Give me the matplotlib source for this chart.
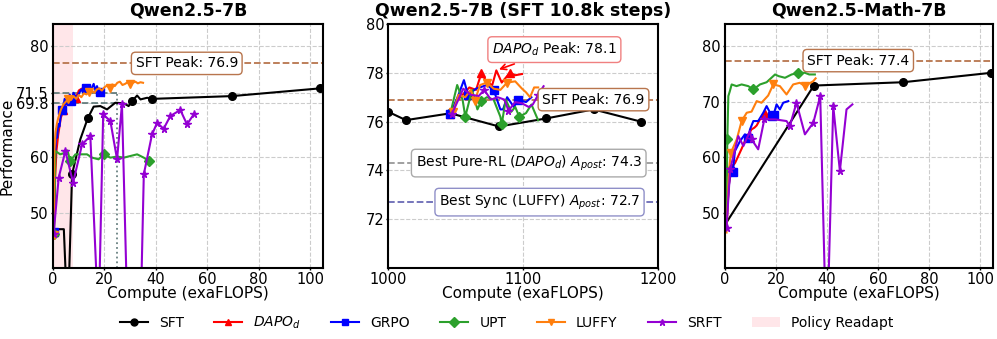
import matplotlib
matplotlib.use("Agg")
import matplotlib.pyplot as plt
from matplotlib.patches import Patch
from matplotlib.lines import Line2D

# ---------------- Panel 1: Qwen2.5-7B ----------------
p1_sft_x = [0.2, 0.9, 4.2, 5.7, 7.4, 10.6, 13.5, 15.8, 18.4, 21.0, 24.2, 27.5, 29.4, 30.7, 32.7, 34.0, 36.6, 38.5, 69.6, 104]
p1_sft_y = [46.0, 47.0, 47.0, 30.0, 56.9, 63.2, 67.0, 69.1, 69.2, 68.6, 69.8, 69.7, 69.2, 70.1, 71.1, 70.4, 70.7, 70.5, 71.0, 72.4]

p1_dapo_x = [0.3, 0.8, 1.3, 2, 3, 4, 5, 6, 7, 8, 9, 10, 11]
p1_dapo_y = [46.5, 56, 61, 64, 67, 68.5, 69.5, 70.2, 69.8, 71.0, 70.6, 72.0, 72.3]

p1_grpo_x = [0.3, 0.8, 1.2, 1.6, 2.0, 2.5, 3.0, 3.5, 4.0, 4.5, 5.0, 5.5, 6.0, 6.5, 7.0, 7.5, 8.0, 9, 10, 11, 12, 13, 14, 15, 15.8, 16.5, 17.1, 17.8, 18.4]
p1_grpo_y = [46.5, 59.5, 65, 63.5, 66, 65.5, 67.5, 68.5, 69.0, 70.5, 69.5, 71.0, 70.2, 71.3, 70.1, 70.8, 71.6, 70.6, 71.4, 72.2, 71.5, 72.5, 71.6, 72.4, 73.2, 72.0, 72.8, 71.7, 71.8]

p1_upt_x = [0.4, 0.9, 2.8, 4.8, 5.6, 6.7, 8.7, 10.6, 13.2, 15.2, 17.7, 19.7, 22.3, 24.9, 27.5, 30.1, 32.7, 35.3, 37.2]
p1_upt_y = [46.1, 61.1, 60.5, 60.8, 61.2, 59.3, 60.5, 60.5, 60.5, 59.9, 59.6, 60.5, 59.9, 60.1, 59.9, 60.2, 60.5, 59.9, 59.3]

p1_luffy_x = [0.3, 0.5, 1, 1.5, 2, 3, 4, 5, 6, 7, 8, 9, 10, 11, 12, 13, 14, 15, 16, 17, 18, 19, 20, 21, 22, 23, 24, 25, 26, 27, 28, 29, 30, 31, 32, 33, 34, 35]
p1_luffy_y = [46.0, 61, 64.5, 66, 67, 68.5, 69.5, 70, 70.5, 70.3, 71, 70.5, 71.2, 70.8, 71.5, 71.3, 71.8, 72, 71.6, 72.2, 72.4, 72, 72.6, 72.9, 72.5, 73.1, 72.8, 73.4, 73.6, 73.0, 73.2, 73.5, 73.1, 73.4, 73.6, 73.3, 73.5, 73.4]

p1_srft_x = [0.2, 2.2, 4.8, 7.8, 11.3, 14.5, 17.7, 19.5, 22.3, 24.9, 26.8, 29.0, 34.0, 35.3, 38.5, 40.5, 43.0, 45.6, 49.5, 52.1, 54.7]
p1_srft_y = [46.1, 56.3, 61.1, 55.4, 62.3, 63.8, 30, 67.7, 66.5, 59.6, 69.5, 30, 30, 56.9, 64.1, 66.2, 65.1, 67.4, 68.5, 65.9, 67.7]

# ---------------- Panel 2: Qwen2.5-7B (SFT 10.8k steps) ----------------
p2_sft_x = [1000, 1013, 1046, 1082, 1117, 1152, 1187]
p2_sft_y = [76.4, 76.06, 76.34, 75.8, 76.13, 76.5, 76.0]

p2_dapo_x = [1046, 1050, 1055, 1060, 1065, 1069, 1073, 1077, 1080, 1084, 1087, 1090, 1094, 1099]
p2_dapo_y = [76.3, 76.8, 77.1, 77.4, 77.3, 78.0, 77.6, 77.5, 78.1, 77.6, 77.8, 78.0, 77.9, 77.95]

p2_grpo_x = [1046, 1052, 1056, 1059, 1065, 1073, 1078, 1083, 1085, 1088, 1093, 1096, 1102, 1106]
p2_grpo_y = [76.3, 77.1, 77.7, 77.1, 77.35, 77.5, 77.3, 76.5, 76.5, 77.0, 76.6, 76.9, 76.8, 77.0]

p2_upt_x = [1046, 1051, 1055, 1057, 1062, 1066, 1069, 1073, 1078, 1083, 1084, 1087, 1091, 1094, 1097, 1102, 1106, 1111]
p2_upt_y = [76.35, 77.5, 76.9, 76.2, 77.3, 76.5, 76.85, 77.0, 76.9, 76.2, 75.9, 76.9, 76.4, 76.6, 76.2, 76.35, 76.7, 76.05]

p2_luffy_x = [1048, 1052, 1057, 1061, 1064, 1068, 1073, 1078, 1083, 1088, 1094, 1099, 1102, 1105, 1108, 1111]
p2_luffy_y = [76.4, 77.1, 77.0, 77.3, 76.85, 77.5, 77.6, 77.35, 77.3, 77.6, 77.65, 77.35, 77.2, 77.0, 77.4, 77.4]

p2_srft_x = [1047, 1055.5, 1061, 1067, 1071, 1076, 1081, 1086, 1089, 1094, 1099, 1104, 1107, 1111, 1115]
p2_srft_y = [76.3, 77.35, 77.1, 77.05, 77.3, 76.9, 77.0, 76.9, 76.45, 76.8, 76.75, 76.6, 76.7, 77.1, 77.45]

# ---------------- Panel 3: Qwen2.5-Math-7B ----------------
p3_sft_x = [0.0, 34.8, 69.8, 104.3]
p3_sft_y = [47.8, 72.9, 73.5, 75.2]

p3_dapo_x = [0.5, 1.5, 2.6, 4.0, 5.2, 6.5, 7.8, 9.0, 10.4, 11.5, 12.4, 13.7, 15.0, 15.6]
p3_dapo_y = [47.0, 55.0, 58.1, 59.0, 60.2, 61.5, 62.9, 64.0, 65.0, 65.3, 65.7, 66.8, 67.0, 67.7]

p3_grpo_x = [0.5, 1.2, 2.0, 3.0, 3.9, 5.9, 7.8, 9.1, 9.8, 11.1, 13.0, 15.0, 16.3, 18.3, 19.0, 20.2, 21.5, 22.8, 24.8]
p3_grpo_y = [47.0, 53.0, 57.5, 57.3, 61.1, 62.9, 64.1, 63.5, 65.0, 66.5, 66.5, 68.0, 69.2, 67.4, 67.6, 69.5, 68.6, 69.8, 70.1]

p3_upt_x = [0.5, 0.9, 1.3, 1.9, 2.6, 4.5, 6.5, 9.1, 11.1, 13.7, 16.3, 19.6, 21.0, 23.5, 26.1, 28.7, 31.3, 33.0, 35.2]
p3_upt_y = [47.0, 63.2, 71.0, 71.9, 73.1, 72.8, 73.1, 72.8, 72.2, 73.1, 73.5, 74.9, 74.6, 74.3, 74.9, 75.2, 75.2, 74.9, 74.9]

p3_luffy_x = [0.6, 1.6, 2.3, 4.6, 6.5, 8.5, 10.4, 12.4, 14.3, 16.9, 18.9, 21.5, 24.1, 26.7, 29.3, 31.3, 34.6, 35.5]
p3_luffy_y = [46.4, 57.8, 60.8, 63.2, 66.5, 68.0, 68.2, 70.1, 69.8, 71.1, 73.1, 72.8, 71.3, 73.1, 73.4, 72.8, 73.7, 74.2]

p3_srft_x = [0.6, 2.0, 3.3, 5.2, 7.2, 9.8, 10.4, 13.0, 15.4, 19.6, 24.1, 25.4, 28.0, 31.3, 34.6, 37.3, 39.8, 42.4, 45.0, 47.6, 49.9]
p3_srft_y = [47.3, 57.8, 60.2, 63.8, 62.0, 64.7, 63.2, 61.4, 66.8, 66.8, 66.5, 65.6, 69.8, 64.1, 66.2, 71.0, 25, 69.2, 57.5, 68.6, 69.5]

C_SFT, C_DAPO, C_GRPO, C_UPT, C_LUFFY, C_SRFT = "black", "red", "blue", "#2ca02c", "#ff7f0e", "darkviolet"
PEAK_C = "#b8754d"
REF_C = "#4f6b6b"

plt.rcParams["font.family"] = "DejaVu Sans"

fig = plt.figure(figsize=(9.97, 3.39), dpi=100)
ax1 = fig.add_axes([0.0532, 0.2094, 0.2708, 0.7198])
ax2 = fig.add_axes([0.3895, 0.2094, 0.2708, 0.7198])
ax3 = fig.add_axes([0.7272, 0.2094, 0.2688, 0.7198])


def style(ax):
    ax.grid(True, ls="--", color="#cccccc", lw=0.8)
    ax.set_axisbelow(True)
    for s in ax.spines.values():
        s.set_linewidth(1.5)
    ax.tick_params(labelsize=10.5, width=1.0, length=1.5, pad=1.5)
    ax.set_xlabel("Compute (exaFLOPS)", fontsize=11, labelpad=-1.2)


def runs(ax, d, lw=1.5, ms=5.5):
    for x, y, c, m, me in d:
        ax.plot(x, y, color=c, marker=m, markevery=me, lw=lw, ms=ms, clip_on=True)


peak_box = dict(boxstyle="round,pad=0.3", fc="white", ec=PEAK_C, lw=1.0)

# panel 1
style(ax1)
ax1.axvspan(0, 7.6, color="#ffc8d0", alpha=0.45, lw=0, zorder=0)
ax1.axhline(76.9, color=PEAK_C, ls="--", lw=1.3)
ax1.text(52, 76.9, "SFT Peak: 76.9", ha="center", va="center", fontsize=10, bbox=peak_box)
ax1.plot([0, 25], [71.5, 71.5], color=REF_C, ls="--", lw=1.3, alpha=0.85)
ax1.plot([0, 25], [69.8, 69.8], color=REF_C, ls="--", lw=1.3, alpha=0.85)
ax1.plot([24.9, 24.9], [40, 71.5], color=REF_C, ls=":", lw=1.3, alpha=0.85)
runs(ax1, [
    (p1_sft_x, p1_sft_y, C_SFT, "o", [4, 6, 13, 17, 18, 19]),
    (p1_dapo_x, p1_dapo_y, C_DAPO, "^", 5),
    (p1_grpo_x, p1_grpo_y, C_GRPO, "s", 7),
    (p1_upt_x, p1_upt_y, C_UPT, "D", [0, 5, 11, 18]),
    (p1_luffy_x, p1_luffy_y, C_LUFFY, "v", 8),
    (p1_srft_x, p1_srft_y, C_SRFT, "*", 1),
])
ax1.set_xlim(0, 105)
ax1.set_ylim(40, 84)
ax1.set_yticks([50, 60, 69.8, 71.5, 80])
ax1.set_yticklabels(["50", "60", "69.8", "71.5", "80"])
ax1.set_xticks([0, 20, 40, 60, 80, 100])
ax1.set_ylabel("Performance", fontsize=11, labelpad=1)
ax1.set_title("Qwen2.5-7B", fontsize=12.5, fontweight="bold")

# panel 2
style(ax2)
ax2.axhline(76.9, color=PEAK_C, ls="--", lw=1.3)
ax2.axhline(74.3, color="#999999", ls="--", lw=1.3)
ax2.axhline(72.7, color="#6a6ab5", ls="--", lw=1.3)
runs(ax2, [
    (p2_sft_x, p2_sft_y, C_SFT, "o", 1),
    (p2_dapo_x, p2_dapo_y, C_DAPO, "^", [0, 5, 11]),
    (p2_grpo_x, p2_grpo_y, C_GRPO, "s", [0, 3, 6, 11]),
    (p2_upt_x, p2_upt_y, C_UPT, "D", [3, 6, 10, 14]),
    (p2_luffy_x, p2_luffy_y, C_LUFFY, "v", [0, 4, 6, 9]),
    (p2_srft_x, p2_srft_y, C_SRFT, "*", [0, 4, 8, 13]),
])
ax2.text(1152, 76.9, "SFT Peak: 76.9", ha="center", va="center", fontsize=10, bbox=peak_box, zorder=5)
ax2.text(1104, 74.3, r"Best Pure-RL ($DAPO_d$) $A_{post}$: 74.3", ha="center", va="center", fontsize=10,
         bbox=dict(boxstyle="round,pad=0.3", fc="white", ec="#aaaaaa", lw=1.0), zorder=5)
ax2.text(1112, 72.7, r"Best Sync (LUFFY) $A_{post}$: 72.7", ha="center", va="center", fontsize=10,
         bbox=dict(boxstyle="round,pad=0.3", fc="white", ec="#8f8fc8", lw=1.0), zorder=5)
ax2.annotate(r"$DAPO_d$ Peak: 78.1", xy=(1080, 78.1), xytext=(1123, 78.95), ha="center", va="center",
             fontsize=10, bbox=dict(boxstyle="round,pad=0.3", fc="white", ec="#f08080", lw=1.0),
             arrowprops=dict(arrowstyle="->", color="red", lw=1.2), zorder=5)
ax2.set_xlim(1000, 1200)
ax2.set_ylim(70, 80)
ax2.set_xticks([1000, 1100, 1200])
ax2.set_yticks([72, 74, 76, 78, 80])
ax2.set_title("Qwen2.5-7B (SFT 10.8k steps)", fontsize=12.5, fontweight="bold")

# panel 3
style(ax3)
ax3.axhline(77.4, color=PEAK_C, ls="--", lw=1.3)
ax3.text(52.2, 77.4, "SFT Peak: 77.4", ha="center", va="center", fontsize=10, bbox=peak_box)
runs(ax3, [
    (p3_sft_x, p3_sft_y, C_SFT, "o", [1, 2, 3]),
    (p3_dapo_x, p3_dapo_y, C_DAPO, "^", [2, 13]),
    (p3_grpo_x, p3_grpo_y, C_GRPO, "s", [2, 3, 7, 13, 14]),
    (p3_upt_x, p3_upt_y, C_UPT, "D", [1, 8, 15]),
    (p3_luffy_x, p3_luffy_y, C_LUFFY, "v", [2, 4, 10, 15]),
    (p3_srft_x, p3_srft_y, C_SRFT, "*", [0, 1, 6, 8, 11, 12, 14, 15, 17, 18]),
])
ax3.set_xlim(0, 105)
ax3.set_ylim(40, 84)
ax3.set_yticks([50, 60, 70, 80])
ax3.set_xticks([0, 20, 40, 60, 80, 100])
ax3.set_title("Qwen2.5-Math-7B", fontsize=12.5, fontweight="bold")

handles = [
    Line2D([], [], color=C_SFT, marker="o", lw=1.5, ms=5),
    Line2D([], [], color=C_DAPO, marker="^", lw=1.5, ms=5),
    Line2D([], [], color=C_GRPO, marker="s", lw=1.5, ms=5),
    Line2D([], [], color=C_UPT, marker="D", lw=1.5, ms=5),
    Line2D([], [], color=C_LUFFY, marker="v", lw=1.5, ms=5),
    Line2D([], [], color=C_SRFT, marker="*", lw=1.5, ms=5),
    Patch(facecolor="#ffc8d0", alpha=0.45),
]
labels = ["SFT", r"$DAPO_d$", "GRPO", "UPT", "LUFFY", "SRFT", "Policy Readapt"]
fig.legend(handles, labels, loc="center", bbox_to_anchor=(0.508, 0.047), ncol=7, frameon=False,
           fontsize=10, handlelength=2.0, columnspacing=2.2)

fig.savefig("out.png", dpi=100)
